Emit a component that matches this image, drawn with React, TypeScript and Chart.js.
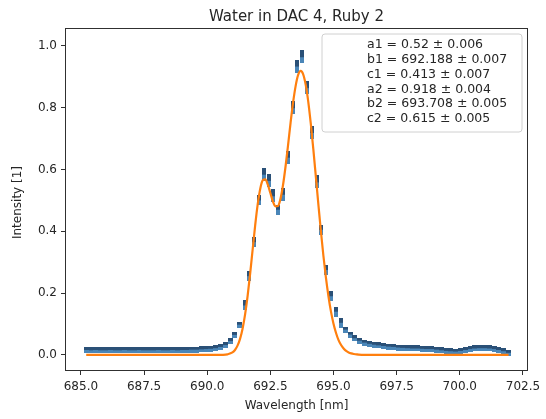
import React, { useEffect, useRef } from 'react';
import { Chart, registerables } from 'chart.js';

Chart.register(...registerables);

const chartTitle = 'Water in DAC 4, Ruby 2';
const xAxisTitle = 'Wavelength [nm]';
const yAxisTitle = 'Intensity [1]';

// measured spectrum (blue points)
const wavelengths = [
  685.21, 685.40, 685.59, 685.78, 685.97, 686.16, 686.35, 686.54, 686.73, 686.92,
  687.11, 687.30, 687.49, 687.68, 687.87, 688.06, 688.25, 688.44, 688.63, 688.82,
  689.01, 689.20, 689.39, 689.58, 689.77, 689.96, 690.15, 690.34, 690.53, 690.72,
  690.91, 691.10, 691.29, 691.48, 691.67, 691.86, 692.05, 692.24, 692.43, 692.62,
  692.81, 693.00, 693.19, 693.38, 693.57, 693.76, 693.95, 694.14, 694.33, 694.52,
  694.71, 694.90, 695.09, 695.28, 695.47, 695.66, 695.85, 696.04, 696.23, 696.42,
  696.61, 696.80, 696.99, 697.18, 697.37, 697.56, 697.75, 697.94, 698.13, 698.32,
  698.51, 698.70, 698.89, 699.08, 699.27, 699.46, 699.65, 699.84, 700.03, 700.22,
  700.41, 700.60, 700.79, 700.98, 701.17, 701.36, 701.55, 701.74, 701.93,
];
const intensity = [
  0.016, 0.015, 0.016, 0.015, 0.015, 0.016, 0.015, 0.015, 0.016, 0.015,
  0.015, 0.016, 0.015, 0.015, 0.015, 0.016, 0.015, 0.015, 0.016, 0.015,
  0.016, 0.016, 0.017, 0.017, 0.018, 0.019, 0.020, 0.022, 0.026, 0.032,
  0.045, 0.065, 0.098, 0.160, 0.255, 0.365, 0.500, 0.585, 0.565, 0.515,
  0.470, 0.520, 0.640, 0.800, 0.935, 0.965, 0.865, 0.720, 0.560, 0.405,
  0.275, 0.190, 0.140, 0.104, 0.082, 0.066, 0.054, 0.046, 0.040, 0.036,
  0.033, 0.031, 0.029, 0.027, 0.026, 0.024, 0.023, 0.022, 0.021, 0.021,
  0.020, 0.019, 0.019, 0.017, 0.015, 0.013, 0.012, 0.011, 0.013, 0.016,
  0.019, 0.021, 0.022, 0.022, 0.021, 0.019, 0.016, 0.012, 0.007,
];

// fitted curve (orange line)
const fitWavelengths = [
  685.21, 689.0, 690.0, 690.4, 690.6, 690.8, 691.0, 691.1, 691.2, 691.3,
  691.4, 691.5, 691.6, 691.7, 691.8, 691.9, 692.0, 692.1, 692.2, 692.3,
  692.4, 692.5, 692.6, 692.7, 692.8, 692.9, 693.0, 693.1, 693.2, 693.3,
  693.4, 693.5, 693.6, 693.7, 693.8, 693.9, 694.0, 694.1, 694.2, 694.3,
  694.4, 694.5, 694.6, 694.7, 694.8, 694.9, 695.0, 695.1, 695.2, 695.3,
  695.4, 695.5, 695.6, 695.7, 695.8, 695.9, 696.0, 696.2, 697.0, 701.93,
];
const fitIntensity = [
  0.000, 0.000, 0.000, 0.000, 0.0003, 0.002, 0.008, 0.016, 0.030, 0.052,
  0.085, 0.131, 0.191, 0.263, 0.342, 0.420, 0.488, 0.538, 0.565, 0.568,
  0.551, 0.524, 0.497, 0.481, 0.482, 0.505, 0.549, 0.609, 0.678, 0.751,
  0.817, 0.870, 0.906, 0.919, 0.908, 0.874, 0.820, 0.749, 0.667, 0.578,
  0.488, 0.401, 0.321, 0.250, 0.190, 0.140, 0.101, 0.071, 0.048, 0.032,
  0.021, 0.013, 0.008, 0.005, 0.003, 0.002, 0.001, 0.000, 0.000, 0.000,
];

const fitParams = [
  'a1 = 0.52 \u00b1 0.006',
  'b1 = 692.188 \u00b1 0.007',
  'c1 = 0.413 \u00b1 0.007',
  'a2 = 0.918 \u00b1 0.004',
  'b2 = 693.708 \u00b1 0.005',
  'c2 = 0.615 \u00b1 0.005',
];

const xTicks = [685.0, 687.5, 690.0, 692.5, 695.0, 697.5, 700.0, 702.5];
const yTicks = [0.0, 0.2, 0.4, 0.6, 0.8, 1.0];

const FONT = '"DejaVu Sans", sans-serif';

function makeMarker(w: number, h: number): HTMLCanvasElement {
  const c = document.createElement('canvas');
  c.width = w;
  c.height = h;
  const g = c.getContext('2d')!;
  g.fillStyle = '#4a86b8';
  g.fillRect(0, 0, w, h);
  g.fillStyle = '#2a5077';
  g.fillRect(0, 0, w, Math.ceil(h / 2));
  return c;
}

const decoPlugin = {
  id: 'deco',
  afterDraw(chart: any) {
    const { ctx, chartArea: a } = chart;
    ctx.save();
    ctx.strokeStyle = '#303030';
    ctx.lineWidth = 1;
    const l = Math.round(a.left) + 0.5;
    const t = Math.round(a.top) + 0.5;
    const r = Math.round(a.right) - 0.5;
    const b = Math.round(a.bottom) - 0.5;
    ctx.strokeRect(l, t, r - l, b - t);

    ctx.fillStyle = '#262626';
    ctx.font = '15px ' + FONT;
    ctx.textAlign = 'center';
    ctx.textBaseline = 'alphabetic';
    ctx.fillText(chartTitle, (a.left + a.right) / 2, 21);

    ctx.font = '12px ' + FONT;
    ctx.fillText(xAxisTitle, (a.left + a.right) / 2, 409);
    ctx.save();
    ctx.translate(18, (a.top + a.bottom) / 2 + 3);
    ctx.rotate(-Math.PI / 2);
    ctx.textBaseline = 'middle';
    ctx.fillText(yAxisTitle, 0, 0);
    ctx.restore();

    const bx = 322, by = 34, bw = 200, bh = 98, rad = 3;
    ctx.beginPath();
    ctx.moveTo(bx + rad, by);
    ctx.lineTo(bx + bw - rad, by);
    ctx.quadraticCurveTo(bx + bw, by, bx + bw, by + rad);
    ctx.lineTo(bx + bw, by + bh - rad);
    ctx.quadraticCurveTo(bx + bw, by + bh, bx + bw - rad, by + bh);
    ctx.lineTo(bx + rad, by + bh);
    ctx.quadraticCurveTo(bx, by + bh, bx, by + bh - rad);
    ctx.lineTo(bx, by + rad);
    ctx.quadraticCurveTo(bx, by, bx + rad, by);
    ctx.closePath();
    ctx.fillStyle = 'rgba(255,255,255,0.85)';
    ctx.fill();
    ctx.strokeStyle = '#d0d0d0';
    ctx.stroke();

    ctx.fillStyle = '#262626';
    ctx.font = '12.5px ' + FONT;
    ctx.textAlign = 'left';
    ctx.textBaseline = 'middle';
    fitParams.forEach((s, i) => {
      ctx.fillText(s, 367, 45 + i * 14.8);
    });
    ctx.restore();
  },
};

export default function App() {
  const ref = useRef<HTMLCanvasElement>(null);

  useEffect(() => {
    if (!ref.current) return;
    const small = makeMarker(5, 6);
    const mid = makeMarker(4, 10);
    const tall = makeMarker(4, 13);

    const chart = new Chart(ref.current, {
      type: 'scatter',
      data: {
        datasets: [
          {
            label: 'fit',
            data: fitWavelengths.map((x, i) => ({ x, y: fitIntensity[i] })),
            showLine: true,
            borderColor: '#ff7f0e',
            backgroundColor: '#ff7f0e',
            borderWidth: 2.2,
            pointRadius: 0,
            cubicInterpolationMode: 'monotone',
            order: 0,
          },
          {
            label: 'data',
            data: wavelengths.map((x, i) => ({ x, y: intensity[i] })),
            showLine: false,
            pointStyle: (c: any) => {
              const v = c.raw ? c.raw.y : 0;
              return v > 0.5 ? tall : v > 0.1 ? mid : small;
            },
            pointRadius: 3,
            order: 1,
          } as any,
        ],
      },
      options: {
        responsive: false,
        animation: false,
        layout: { padding: { top: 28, right: 18, left: 0, bottom: 0 } },
        plugins: {
          legend: { display: false },
          tooltip: { enabled: false },
          title: { display: false },
        },
        scales: {
          x: {
            type: 'linear',
            min: 684.37,
            max: 702.7,
            afterFit: (s: any) => { s.height = 48; },
            afterBuildTicks: (s: any) => { s.ticks = xTicks.map((v) => ({ value: v })); },
            ticks: {
              callback: (v: any) => Number(v).toFixed(1),
              font: { family: FONT, size: 12 },
              color: '#262626',
              padding: 5,
              maxRotation: 0,
              autoSkip: false,
            },
            grid: { drawOnChartArea: false, drawTicks: true, tickLength: 4, color: '#303030' },
            border: { display: false },
          },
          y: {
            type: 'linear',
            min: -0.052,
            max: 1.058,
            afterFit: (s: any) => { s.width = 65; },
            afterBuildTicks: (s: any) => { s.ticks = yTicks.map((v) => ({ value: v })); },
            ticks: {
              callback: (v: any) => Number(v).toFixed(1),
              font: { family: FONT, size: 12 },
              color: '#262626',
              padding: 4,
              autoSkip: false,
            },
            grid: { drawOnChartArea: false, drawTicks: true, tickLength: 4, color: '#303030' },
            border: { display: false },
          },
        },
      },
      plugins: [decoPlugin],
    } as any);
    return () => chart.destroy();
  }, []);

  return (
    <canvas
      ref={ref}
      width={546}
      height={419}
      style={{ position: 'fixed', left: 0, top: 0, width: 546, height: 419, background: '#fff' }}
    />
  );
}
